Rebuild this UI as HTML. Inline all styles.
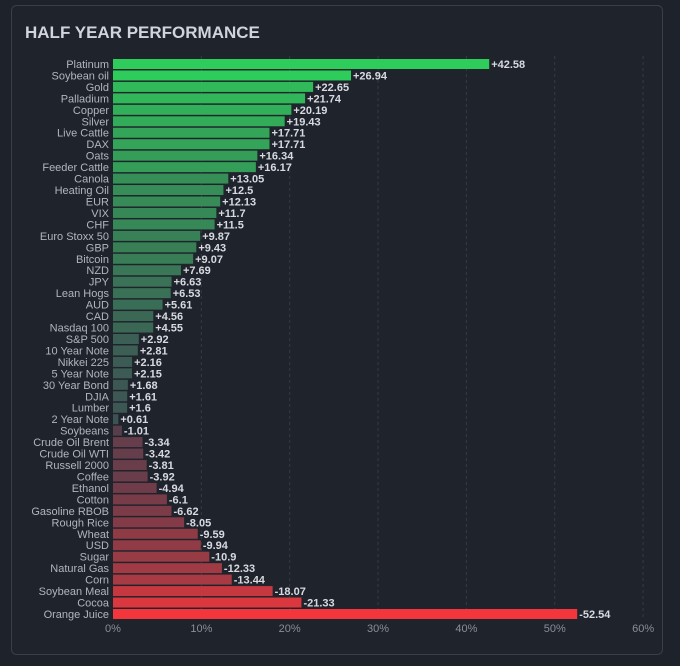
<!DOCTYPE html>
<html><head><style>
body{margin:0;background:#1e222b;width:680px;height:661px;overflow:hidden;font-family:"Liberation Sans",sans-serif}
</style></head><body>
<svg id="s" width="680" height="661" xmlns="http://www.w3.org/2000/svg">
<rect x="11.5" y="5.5" width="651" height="649" rx="5" fill="#1f232c" stroke="#3a3e48"/>
<text x="25" y="38" fill="#d1d4dc" font-size="17" font-weight="bold" font-family="Liberation Sans, sans-serif">HALF YEAR PERFORMANCE</text>
</svg>
<script>
var d=[["Platinum",42.58],["Soybean oil",26.94],["Gold",22.65],["Palladium",21.74],["Copper",20.19],["Silver",19.43],["Live Cattle",17.71],["DAX",17.71],["Oats",16.34],["Feeder Cattle",16.17],["Canola",13.05],["Heating Oil",12.5],["EUR",12.13],["VIX",11.7],["CHF",11.5],["Euro Stoxx 50",9.87],["GBP",9.43],["Bitcoin",9.07],["NZD",7.69],["JPY",6.63],["Lean Hogs",6.53],["AUD",5.61],["CAD",4.56],["Nasdaq 100",4.55],["S&P 500",2.92],["10 Year Note",2.81],["Nikkei 225",2.16],["5 Year Note",2.15],["30 Year Bond",1.68],["DJIA",1.61],["Lumber",1.6],["2 Year Note",0.61],["Soybeans",-1.01],["Crude Oil Brent",-3.34],["Crude Oil WTI",-3.42],["Russell 2000",-3.81],["Coffee",-3.92],["Ethanol",-4.94],["Cotton",-6.1],["Gasoline RBOB",-6.62],["Rough Rice",-8.05],["Wheat",-9.59],["USD",-9.94],["Sugar",-10.9],["Natural Gas",-12.33],["Corn",-13.44],["Soybean Meal",-18.07],["Cocoa",-21.33],["Orange Juice",-52.54]];
var s=document.getElementById('s'),h='';
var x0=113,k=8.835;
for(var i=1;i<=6;i++){var gx=x0+i*10*k;h+='<line x1="'+gx+'" y1="56" x2="'+gx+'" y2="620" stroke="#363a45" stroke-dasharray="3,3"/>';}
for(var i=0;i<=6;i++){var gx=x0+i*10*k;h+='<text x="'+gx+'" y="632" fill="#8a8e99" font-size="11" text-anchor="middle">'+(i*10)+'%</text>';}
function mix(a,b,t){return 'rgb('+a.map(function(v,j){return Math.round(v+(b[j]-v)*t)}).join(',')+')';}
d.forEach(function(r,i){
 var y=64+i*11.458,v=r[1],w=Math.abs(v)*k,c;
 if(v>=0){var t=Math.min(1,Math.pow(v/27,0.9));c=mix([62,78,84],[46,204,90],t);}
 else{var t=Math.min(1,Math.abs(v)/25);c=mix([80,62,76],[242,54,60],t);}
 h+='<rect x="'+x0+'" y="'+(y-5)+'" width="'+w+'" height="10" fill="'+c+'"/>';
 h+='<text x="109" y="'+(y+4)+'" fill="#b2b5be" font-size="11" text-anchor="end">'+r[0].replace('&','&amp;')+'</text>';
 h+='<text x="'+(x0+w+2)+'" y="'+(y+4)+'" fill="#d8dae0" font-size="11" font-weight="bold">'+(v>0?'+':'')+v+'</text>';
});
s.insertAdjacentHTML('beforeend',h);
</script>
</body></html>
